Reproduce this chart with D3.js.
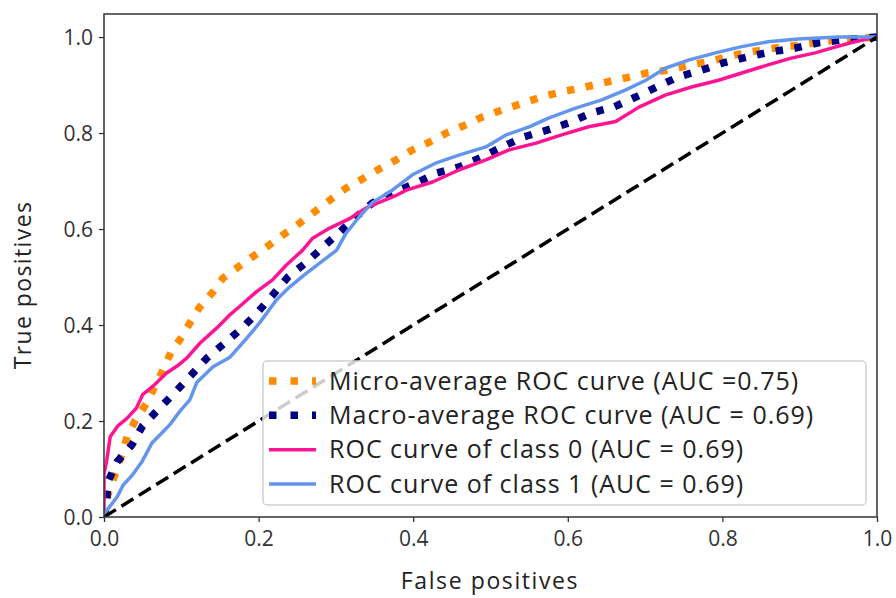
<!DOCTYPE html>
<html>
<head>
<meta charset="utf-8">
<script src="https://cdn.jsdelivr.net/npm/d3@7"></script>
<style>
  body { margin: 0; background: #fff; }
  svg { display: block; }
  text { font-family: "Open Sans", "Noto Sans", sans-serif; }
</style>
</head>
<body>
<svg id="chart" width="896" height="598"></svg>
<script>
// ROC curves
const microFpr = [0, 0.005, 0.014, 0.02, 0.03, 0.04, 0.055, 0.075, 0.088, 0.098, 0.111, 0.124, 0.141, 0.154, 0.172, 0.192, 0.21, 0.231, 0.253, 0.27, 0.292, 0.313, 0.334, 0.356, 0.378, 0.399, 0.421, 0.443, 0.468, 0.489, 0.515, 0.541, 0.566, 0.592, 0.618, 0.644, 0.675, 0.702, 0.73, 0.759, 0.786, 0.814, 0.84, 0.868, 0.898, 0.928, 0.956, 1.0];
const microTpr = [0, 0.046, 0.088, 0.115, 0.167, 0.2, 0.237, 0.302, 0.348, 0.369, 0.404, 0.438, 0.469, 0.498, 0.519, 0.542, 0.562, 0.587, 0.612, 0.633, 0.66, 0.685, 0.704, 0.725, 0.744, 0.765, 0.781, 0.8, 0.817, 0.833, 0.848, 0.862, 0.875, 0.886, 0.894, 0.904, 0.915, 0.925, 0.931, 0.942, 0.95, 0.962, 0.97, 0.977, 0.983, 0.99, 0.995, 1.0];

const macroFpr = [0, 0.003, 0.005, 0.017, 0.036, 0.05, 0.072, 0.092, 0.113, 0.133, 0.156, 0.179, 0.199, 0.218, 0.238, 0.262, 0.283, 0.305, 0.326, 0.347, 0.375, 0.404, 0.431, 0.459, 0.489, 0.515, 0.543, 0.573, 0.601, 0.631, 0.659, 0.688, 0.715, 0.743, 0.773, 0.801, 0.831, 0.862, 0.894, 0.924, 0.956, 1.0];
const macroTpr = [0, 0.021, 0.073, 0.115, 0.15, 0.19, 0.227, 0.26, 0.296, 0.331, 0.362, 0.394, 0.427, 0.462, 0.5, 0.531, 0.562, 0.594, 0.625, 0.654, 0.676, 0.696, 0.717, 0.729, 0.75, 0.771, 0.792, 0.806, 0.821, 0.842, 0.854, 0.875, 0.896, 0.917, 0.931, 0.946, 0.958, 0.969, 0.977, 0.988, 0.994, 1.0];

const class0Fpr = [0, 0, 0.003, 0.008, 0.018, 0.03, 0.042, 0.05, 0.065, 0.081, 0.095, 0.107, 0.124, 0.146, 0.162, 0.175, 0.197, 0.218, 0.236, 0.257, 0.27, 0.292, 0.317, 0.339, 0.36, 0.378, 0.391, 0.425, 0.459, 0.494, 0.524, 0.559, 0.592, 0.627, 0.662, 0.692, 0.726, 0.76, 0.795, 0.825, 0.859, 0.889, 0.92, 0.941, 0.966, 0.992, 1.0];
const class0Tpr = [0, 0.09, 0.112, 0.167, 0.19, 0.206, 0.227, 0.255, 0.275, 0.3, 0.315, 0.331, 0.362, 0.394, 0.42, 0.438, 0.469, 0.494, 0.525, 0.556, 0.581, 0.602, 0.621, 0.644, 0.658, 0.67, 0.681, 0.698, 0.723, 0.744, 0.765, 0.779, 0.796, 0.813, 0.824, 0.854, 0.879, 0.896, 0.91, 0.925, 0.942, 0.956, 0.967, 0.977, 0.988, 0.998, 1.0];

const class1Fpr = [0, 0.001, 0.017, 0.025, 0.037, 0.049, 0.062, 0.076, 0.085, 0.098, 0.111, 0.12, 0.141, 0.163, 0.185, 0.201, 0.223, 0.24, 0.262, 0.279, 0.301, 0.313, 0.33, 0.347, 0.373, 0.399, 0.43, 0.459, 0.494, 0.52, 0.55, 0.575, 0.61, 0.644, 0.675, 0.701, 0.726, 0.756, 0.791, 0.825, 0.859, 0.898, 0.95, 1.0];
const class1Tpr = [0, 0.008, 0.042, 0.067, 0.088, 0.115, 0.154, 0.177, 0.192, 0.22, 0.244, 0.28, 0.313, 0.333, 0.373, 0.404, 0.452, 0.479, 0.508, 0.529, 0.556, 0.591, 0.625, 0.655, 0.681, 0.713, 0.738, 0.754, 0.771, 0.796, 0.813, 0.831, 0.852, 0.869, 0.89, 0.91, 0.935, 0.952, 0.967, 0.98, 0.99, 0.996, 1.0, 1.0];

const seriesNames = [
  "Micro-average ROC curve (AUC =0.75)",
  "Macro-average ROC curve (AUC = 0.69)",
  "ROC curve of class 0 (AUC = 0.69)",
  "ROC curve of class 1 (AUC = 0.69)"
];
const tickValues = [0, 0.2, 0.4, 0.6, 0.8, 1.0];

const series = [
  { name: seriesNames[0], fpr: microFpr, tpr: microTpr, color: "darkorange", width: 7.5, dash: "7.5 11.5" },
  { name: seriesNames[1], fpr: macroFpr, tpr: macroTpr, color: "navy", width: 7.5, dash: "7.5 11.5" },
  { name: seriesNames[2], fpr: class0Fpr, tpr: class0Tpr, color: "deeppink", width: 3.5, dash: null },
  { name: seriesNames[3], fpr: class1Fpr, tpr: class1Tpr, color: "cornflowerblue", width: 3.5, dash: null }
];

const svg = d3.select("#chart");
const margin = { left: 104, right: 19, top: 14, bottom: 81 };
const W = +svg.attr("width"), H = +svg.attr("height");

const x = d3.scaleLinear().domain([0, 1]).range([margin.left, W - margin.right]);
const y = d3.scaleLinear().domain([0, 1.048]).range([H - margin.bottom, margin.top]);

const line = d3.line()
  .x((d) => x(d[0]))
  .y((d) => y(d[1]));

const plot = svg.append("g");
plot.append("defs").append("clipPath").attr("id", "clip")
  .append("rect")
  .attr("x", x(0)).attr("y", y(1.048))
  .attr("width", x(1) - x(0)).attr("height", y(0) - y(1.048));

const curves = plot.append("g").attr("clip-path", "url(#clip)");
series.forEach((s) => {
  curves.append("path")
    .datum(d3.zip(s.fpr, s.tpr))
    .attr("d", line)
    .attr("fill", "none")
    .attr("stroke", s.color)
    .attr("stroke-width", s.width)
    .attr("stroke-dasharray", s.dash)
    .attr("stroke-linejoin", "round");
});

// chance diagonal
curves.append("path")
  .datum([[0, 0], [1, 1]])
  .attr("d", line)
  .attr("fill", "none")
  .attr("stroke", "black")
  .attr("stroke-width", 3.5)
  .attr("stroke-dasharray", "14 6.5");

// axes
const xAxis = d3.axisBottom(x).tickValues(tickValues).tickFormat(d3.format(".1f")).tickSize(5).tickPadding(5);
const yAxis = d3.axisLeft(y).tickValues(tickValues).tickFormat(d3.format(".1f")).tickSize(5).tickPadding(6);

const gx = svg.append("g").attr("transform", `translate(0,${y(0)})`).call(xAxis);
const gy = svg.append("g").attr("transform", `translate(${x(0)},0)`).call(yAxis);
[gx, gy].forEach((g) => {
  g.select(".domain").remove();
  g.selectAll(".tick line").attr("stroke", "#333").attr("stroke-width", 1.3);
  g.selectAll(".tick text").attr("fill", "#333").style("font-size", "21px")
    .style("font-family", "'Open Sans', sans-serif");
});
gy.selectAll(".tick text").attr("dy", "0.36em");
gx.selectAll(".tick text").attr("dy", "0.9em");

// frame
svg.append("rect")
  .attr("x", x(0)).attr("y", y(1.048))
  .attr("width", x(1) - x(0)).attr("height", y(0) - y(1.048))
  .attr("fill", "none").attr("stroke", "#333").attr("stroke-width", 1.5);

// axis labels
svg.append("text")
  .attr("x", 490).attr("y", 589)
  .attr("text-anchor", "middle")
  .attr("fill", "#222")
  .style("font-size", "23px")
  .style("letter-spacing", "1.6px")
  .text("False positives");

svg.append("text")
  .attr("transform", "translate(31,285) rotate(-90)")
  .attr("text-anchor", "middle")
  .attr("fill", "#222")
  .style("font-size", "23px")
  .style("letter-spacing", "1.4px")
  .text("True positives");

// legend
const legend = svg.append("g");
legend.append("rect")
  .attr("x", 263).attr("y", 361)
  .attr("width", 603).attr("height", 144)
  .attr("rx", 4)
  .attr("fill", "white").attr("fill-opacity", 0.8)
  .attr("stroke", "#d0d0d0").attr("stroke-width", 1.5);

const rowY = d3.scalePoint().domain(seriesNames).range([381, 484]);
const rows = legend.selectAll("g.row")
  .data(series)
  .join("g")
  .attr("class", "row")
  .attr("transform", (d) => `translate(0,${rowY(d.name)})`);

rows.append("line")
  .attr("x1", 269).attr("x2", 316)
  .attr("stroke", (d) => d.color)
  .attr("stroke-width", (d) => d.width)
  .attr("stroke-dasharray", (d) => d.dash ? "7.5 14" : null);

rows.append("text")
  .attr("x", 329)
  .attr("dy", "0.35em")
  .attr("fill", "#222")
  .style("font-size", "25px")
  .style("letter-spacing", "1px")
  .text((d) => d.name);
</script>
</body>
</html>
